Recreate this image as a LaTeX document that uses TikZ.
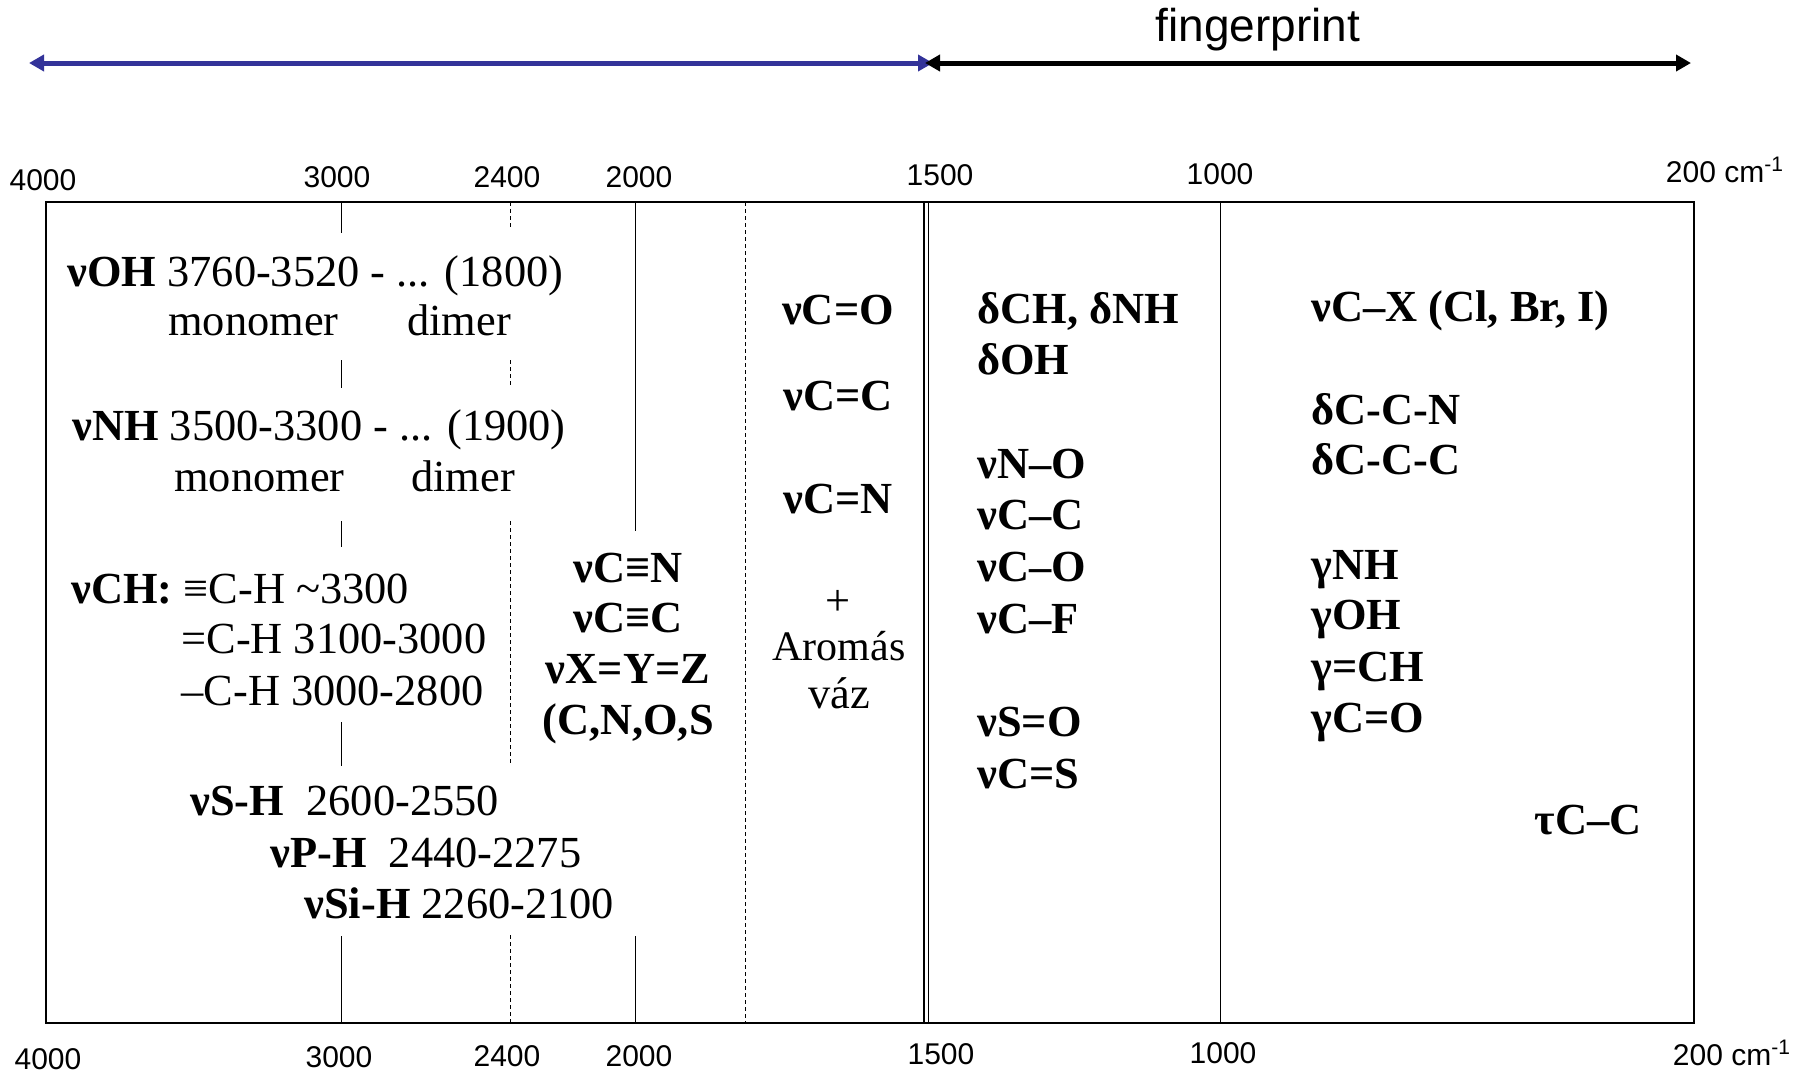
\documentclass[tikz,border=0pt]{standalone}
\usepackage{fontspec}
\setmainfont{Liberation Serif}
\newfontfamily\axisfont{Liberation Sans}
\usetikzlibrary{arrows.meta}
\definecolor{rangeblue}{RGB}{51,51,153}
\newcommand\bandfont{\fontsize{22.2}{26}\selectfont}

\begin{document}
\begin{tikzpicture}[x=0.5pt, y=-0.5pt,
  lbl/.style={font=\bandfont, inner sep=0pt, anchor=base west},
  lblb/.style={font=\bandfont\bfseries, inner sep=0pt, anchor=base west},
  clbl/.style={font=\bandfont, inner sep=0pt, anchor=base},
  clblb/.style={font=\bandfont\bfseries, inner sep=0pt, anchor=base},
  wn/.style={font=\axisfont\fontsize{15}{18}\selectfont, inner sep=0pt},
  sepline/.style={line width=0.5pt},
  sepdash/.style={line width=0.5pt, dash pattern=on 2pt off 1.5pt},
  rangearrow/.style={line width=2.5pt, {Triangle[length=7.5pt,width=8pt]}-{Triangle[length=7.5pt,width=8pt]}}]
\useasboundingbox (0,0) rectangle (1795,1073);

% ranges on top
\coordinate (rl) at (29,63);
\coordinate (rmb) at (933,63);
\coordinate (rmk) at (925,63);
\coordinate (rr) at (1691,63);
\draw[rangearrow, rangeblue] (rl) -- (rmb);
\draw[rangearrow, black] (rmk) -- (rr);
\node[font=\axisfont\fontsize{23}{27}\selectfont, inner sep=0pt] (fp) at (1258,30) {fingerprint};

% frame and separators
\draw[line width=1pt] (46,202) rectangle (1694,1023);
\foreach \a/\b in {202/233,360/388,521/547,722/766,936/1023}
     		\draw[sepline] (341,\a) -- (341,\b);
\foreach \a/\b in {202/230,360/388,521/764,935/1023}
     		\draw[sepdash] (510,\a) -- (510,\b);
\draw[sepline] (635,202) -- (635,531);
\draw[sepline] (635,936) -- (635,1023);
\draw[sepdash] (745,202) -- (745,1023);
\draw[line width=0.8pt] (924,202) -- (924,1023);
\draw[sepline] (928,202) -- (928,1023);
\draw[sepline] (1220,202) -- (1220,1023);

% wavenumbers
\foreach \x/\y/\t in {43/180/4000,337/177/3000,507/177/2400,639/177/2000,940/175/1500,1220/174/1000}
     		\node[wn] (top\t) at (\x,\y) {\t};
\foreach \x/\y/\t in {48/1059/4000,339/1057/3000,507/1056/2400,639/1056/2000,941/1054/1500,1223/1053/1000}
     		\node[wn] (bot\t) at (\x,\y) {\t};
\node[wn] (top200) at (1725,170) {200 cm\textsuperscript{-1}};
\node[wn] (bot200) at (1732,1053) {200 cm\textsuperscript{-1}};

% X-H stretching
\node[lbl] (oh) at (67,286) {\textbf{νOH} 3760-3520 - ... (1800)};
\node[lbl] (ohmono) at (168,335) {monomer};
\node[lbl] (ohdi) at (407,335) {dimer};
\node[lbl] (nh) at (72,440) {\textbf{νNH} 3500-3300 - ... (1900)};
\node[lbl] (nhmono) at (174,491) {monomer};
\node[lbl] (nhdi) at (411,491) {dimer};
\node[lbl] (cha) at (71,603) {\textbf{νCH:} ≡C-H \textasciitilde3300};
\node[lbl] (chb) at (181,653) {=C-H 3100-3000};
\node[lbl] (chc) at (181,705) {–C-H 3000-2800};
\node[lbl] (sh) at (190,815) {\textbf{νS-H}\ \ 2600-2550};
\node[lbl] (ph) at (270,867) {\textbf{νP-H}\ \ 2440-2275};
\node[lbl] (sih) at (304,918) {\textbf{νSi-H} 2260-2100};

% triple and cumulated bonds
\foreach \n/\y/\t in {cn/582/νC≡N, cc/632/νC≡C, xyz/683/νX=Y=Z, atoms/734/{(C,N,O,S}}
     		\node[clblb] (\n) at (628,\y) {\t};

% double bonds
\foreach \n/\y/\t in {co/324/νC=O, ceqc/410/νC=C, ceqn/513/νC=N}
     		\node[clblb] (\n) at (838,\y) {\t};
\node[clbl] (plus) at (838,615) {+};
\node[clbl, font=\fontsize{21}{26}\selectfont] (arom) at (839,660) {Aromás};
\node[clbl] (vaz) at (839,708) {váz};

% fingerprint
\foreach \n/\y/\t in {dch/323/{δCH, δNH}, doh/374/δOH, nosingle/478/νN–O, ccsingle/529/νC–C,
     		cosingle/581/νC–O, cf/633/νC–F, so/736/νS=O, cs/788/νC=S}
     		\node[lblb] (\n) at (977,\y) {\t};
\foreach \n/\y/\t in {cx/321/{νC–X (Cl, Br, I)}, dccn/424/δC-C-N, dccc/474/δC-C-C, gnh/579/γNH,
     		goh/629/γOH, gch/681/γ=CH, gco/732/γC=O}
     		\node[lblb] (\n) at (1311,\y) {\t};
\node[clblb] (tcc) at (1588,834) {τC–C};
\end{tikzpicture}
\end{document}
